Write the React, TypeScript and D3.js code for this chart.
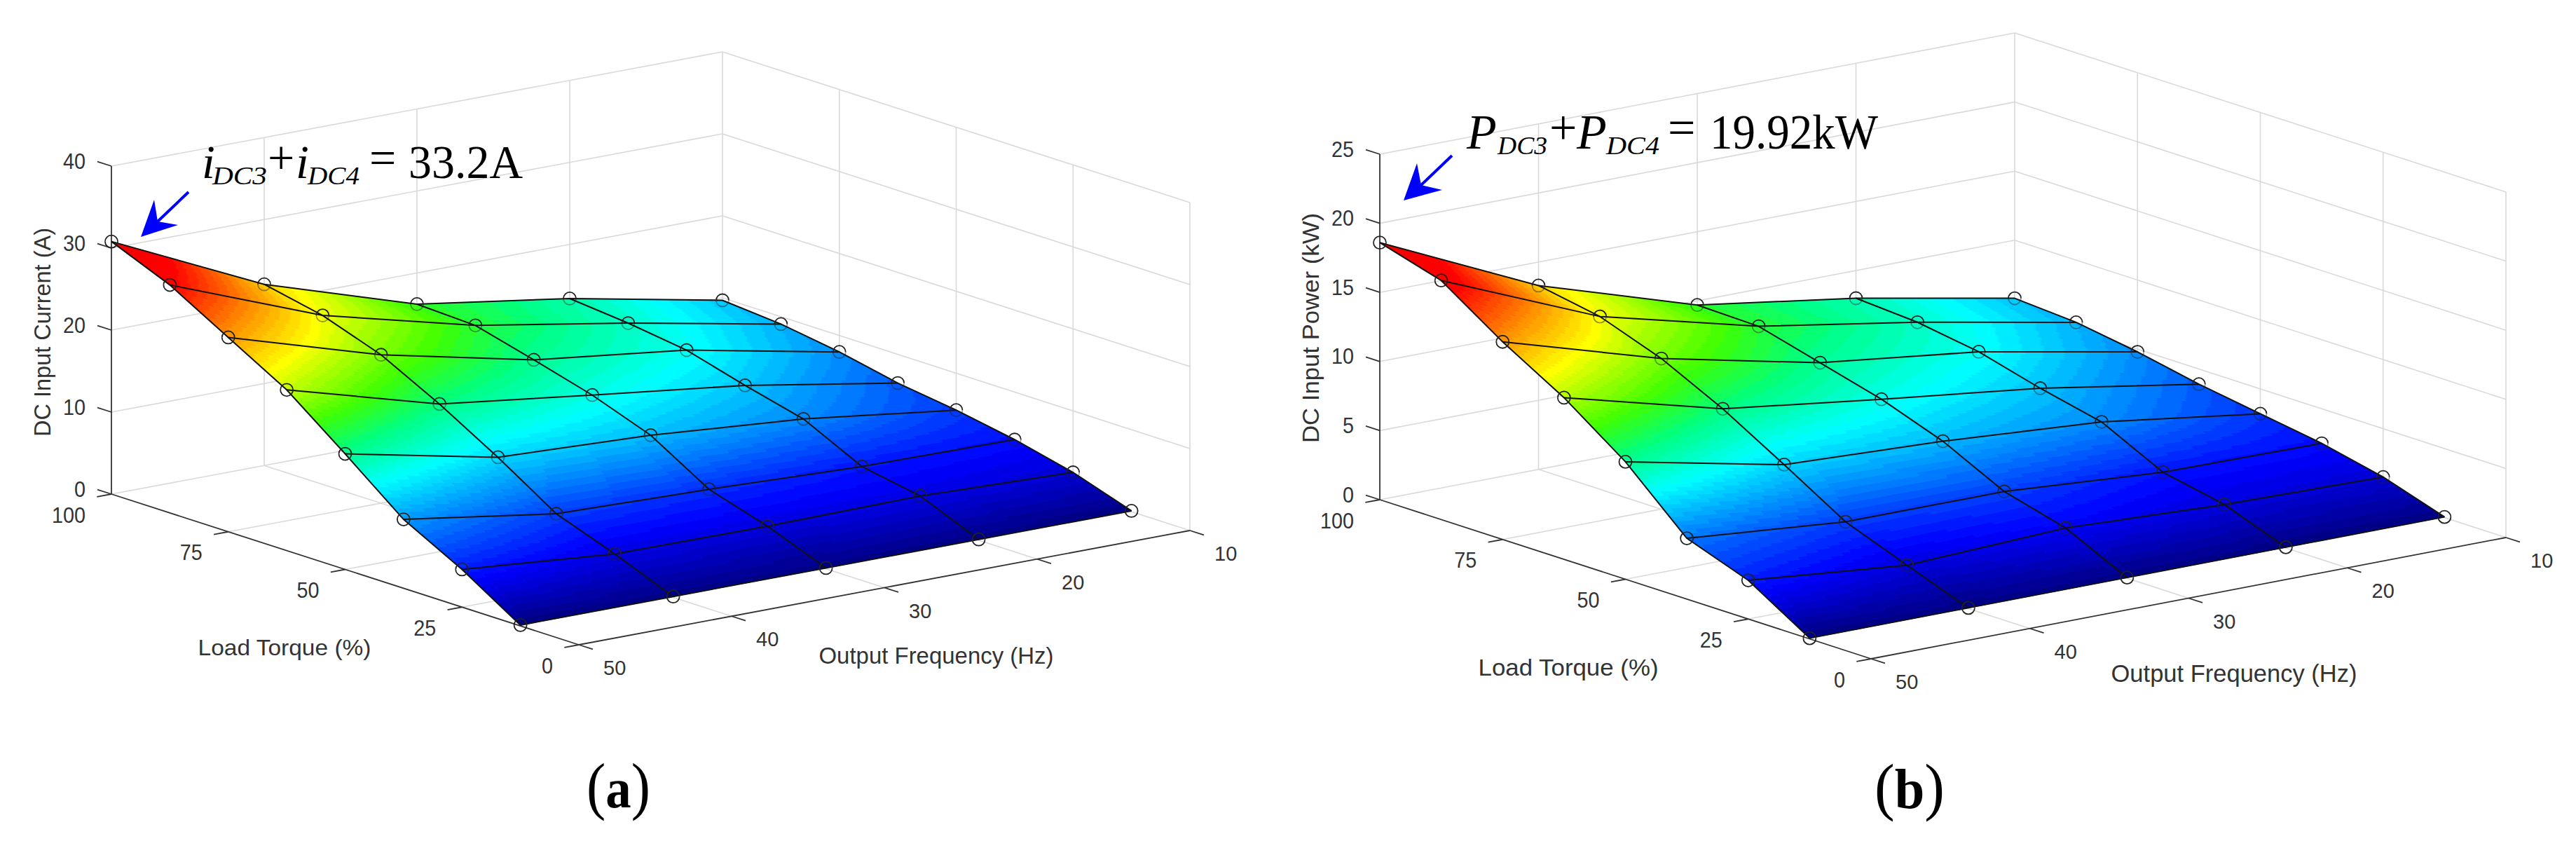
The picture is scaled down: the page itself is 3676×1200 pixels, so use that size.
import React, { useEffect, useRef } from 'react';
import * as d3 from 'd3';

// Grid the measurements were taken on
const torqueLevels = [100, 87.5, 75, 62.5, 50, 37.5, 25, 12.5];
const frequencyLevels = [50, 40, 30, 20, 10];

// Axis ticks
const torqueTicks = [100, 75, 50, 25, 0];
const frequencyTicks = [50, 40, 30, 20, 10];
const currentTicks = [0, 10, 20, 30, 40];
const powerTicks = [0, 5, 10, 15, 20, 25];

// (a) DC input current in A, one list per output frequency, same order as torqueLevels
const currentAt50Hz = [30.8, 27.8, 23.7, 19.6, 14.1, 8.4, 4.6, 0.1];
const currentAt40Hz = [22.1, 20.6, 18.1, 14.4, 10.2, 5.6, 3.0, 0.1];
const currentAt30Hz = [16.2, 15.9, 14.0, 12.0, 9.4, 5.1, 2.9, 0.1];
const currentAt20Hz = [13.4, 12.7, 11.7, 9.7, 7.9, 4.4, 3.1, 0.1];
const currentAt10Hz = [9.7, 9.1, 8.0, 6.5, 5.5, 4.2, 2.5, 0.1];

// (b) DC input power in kW
const powerAt50Hz = [18.6, 17.3, 14.3, 11.7, 8.5, 4.4, 2.8, 0.05];
const powerAt40Hz = [13.3, 12.5, 10.9, 8.7, 6.1, 3.4, 1.7, 0.05];
const powerAt30Hz = [9.7, 9.6, 8.4, 7.2, 5.6, 3.4, 2.2, 0.05];
const powerAt20Hz = [8.0, 7.7, 7.0, 5.8, 4.8, 2.6, 1.7, 0.05];
const powerAt10Hz = [5.8, 5.5, 4.8, 3.9, 3.2, 2.5, 1.5, 0.05];

// Jet-like colormap, read from the surface: the green part is more saturated than plain jet
const jetStops = [0, 0.125, 0.37, 0.47, 0.55, 0.68, 0.9, 1];
const jetColors = ['#00007f', '#0000ff', '#00ffff', '#00ff80', '#40ff00', '#ffff00', '#ff0000', '#f00000'];
const jet = d3.scaleLinear<string>().domain(jetStops).range(jetColors).interpolate(d3.interpolateRgb);
const jetSteps = 64;

const sans = '"Liberation Sans", Arial, sans-serif';
const serif = '"Liberation Serif", "Times New Roman", serif';

const panels = [
  {
    rows: [currentAt50Hz, currentAt40Hz, currentAt30Hz, currentAt20Hz, currentAt10Hz],
    zTicks: currentTicks,
    left: [159, 705], front: [826, 920], right: [1698, 757], zHeight: 468,
    zLabel: 'DC Input Current (A)', zLabelX: 72, zLabelY: 474, zLabelLen: 298, zLabelSize: 33,
    torqueLabelPos: [406, 935], torqueLabelLen: 247, torqueLabelSize: 32,
    freqLabelPos: [1336, 947], freqLabelLen: 335, freqLabelSize: 33,
    arrow: { from: [269, 274], notch: [225, 316], tip: [201, 338], barbA: [220, 285], barbB: [254, 321] },
    symbol: 'i',
    note: { size: 68, base: 254, subBase: 263, subSize: 35, x1: 288, sub1: 303, sub1End: 381, plus: 382, x2: 422, sub2: 439, sub2End: 513, eq: 527, value: '33.2A', valueX: 583, valueEnd: 746 },
    tag: { x: 837, y: 1152, end: 928, letter: 'a' },
  },
  {
    rows: [powerAt50Hz, powerAt40Hz, powerAt30Hz, powerAt20Hz, powerAt10Hz],
    zTicks: powerTicks,
    left: [1969, 713], front: [2670, 940], right: [3576, 767], zHeight: 493,
    zLabel: 'DC Input Power (kW)', zLabelX: 1882, zLabelY: 468, zLabelLen: 328, zLabelSize: 34,
    torqueLabelPos: [2238, 964], torqueLabelLen: 257, torqueLabelSize: 34,
    freqLabelPos: [3188, 973], freqLabelLen: 351, freqLabelSize: 35,
    arrow: { from: [2072, 222], notch: [2028, 264], tip: [2003, 286], barbA: [2022, 233], barbB: [2058, 271] },
    symbol: 'P',
    note: { size: 70, base: 212, subBase: 220, subSize: 35, x1: 2093, sub1: 2137, sub1End: 2208, plus: 2211, x2: 2250, sub2: 2292, sub2End: 2368, eq: 2380, value: '19.92kW', valueX: 2440, valueEnd: 2680 },
    tag: { x: 2675, y: 1153, end: 2775, letter: 'b' },
  },
];

function drawPanel(root: any, panel: any) {
  const [lx, ly] = panel.left;
  const [fx, fy] = panel.front;
  const [rx, ry] = panel.right;
  const zTop = d3.max(panel.zTicks) as number;

  // Orthographic view: each data axis adds a fixed screen offset
  const torqueX = d3.scaleLinear().domain([100, 0]).range([0, fx - lx]);
  const torqueY = d3.scaleLinear().domain([100, 0]).range([0, fy - ly]);
  const freqX = d3.scaleLinear().domain([50, 10]).range([0, rx - fx]);
  const freqY = d3.scaleLinear().domain([50, 10]).range([0, ry - fy]);
  const zY = d3.scaleLinear().domain([0, zTop]).range([0, -panel.zHeight]);
  const project = (t: number, f: number, z: number): [number, number] => [
    lx + torqueX(t) + freqX(f),
    ly + torqueY(t) + freqY(f) + zY(z),
  ];

  const g = root.append('g');
  const line = d3.line();

  // Back walls and floor
  const grid = g.append('g').attr('fill', 'none').attr('stroke', '#d9d9d9').attr('stroke-width', 1.6);
  const seg = (sel: any, a: [number, number], b: [number, number]) =>
    sel.append('path').attr('d', line([a, b]));
  panel.zTicks.forEach((z: number) => {
    seg(grid, project(100, 50, z), project(100, 10, z));
    seg(grid, project(100, 10, z), project(0, 10, z));
  });
  frequencyTicks.slice(1).forEach((f) => {
    seg(grid, project(100, f, 0), project(100, f, zTop));
    if (f !== 10) seg(grid, project(100, f, 0), project(0, f, 0));
  });
  torqueTicks.slice(1).forEach((t) => {
    seg(grid, project(t, 10, 0), project(t, 10, zTop));
    if (t !== 0) seg(grid, project(t, 50, 0), project(t, 10, 0));
  });

  // Axes with ticks
  const ink = '#333333';
  const axes = g.append('g').attr('fill', 'none').attr('stroke', ink).attr('stroke-width', 1.8);
  seg(axes, project(100, 50, 0), project(100, 50, zTop));
  seg(axes, project(100, 50, 0), project(0, 50, 0));
  seg(axes, project(0, 50, 0), project(0, 10, 0));

  const torqueLen = Math.hypot(fx - lx, fy - ly);
  const freqLen = Math.hypot(rx - fx, ry - fy);
  const alongTorque = [((fx - lx) / torqueLen) * 21, ((fy - ly) / torqueLen) * 21];
  const alongFreq = [((rx - fx) / freqLen) * 21, ((ry - fy) / freqLen) * 21];

  const labels = g.append('g').attr('fill', ink).attr('font-family', sans);
  // z and torque numbers are tall and narrow in the original, frequency numbers are not
  const label = (x: number, y: number, text: string, anchor: string, size: number, digitWidth?: number) => {
    const el = labels.append('text').attr('x', x).attr('y', y).attr('text-anchor', anchor)
      .attr('font-size', size).attr('dominant-baseline', 'central').text(text);
    if (digitWidth) el.attr('textLength', digitWidth * text.length).attr('lengthAdjust', 'spacingAndGlyphs');
  };

  panel.zTicks.forEach((z: number) => {
    const [x, y] = project(100, 50, z);
    seg(axes, [x, y], [x - alongTorque[0], y - alongTorque[1]]);
    label(x - 37, y - 7, String(z), 'end', 31, 16);
  });
  torqueTicks.forEach((t) => {
    const [x, y] = project(t, 50, 0);
    seg(axes, [x, y], [x - alongFreq[0], y - alongFreq[1]]);
    label(x - 37, y + 30, String(t), 'end', 31, 16);
  });
  frequencyTicks.forEach((f) => {
    const [x, y] = project(0, f, 0);
    seg(axes, [x, y], [x + alongTorque[0], y + alongTorque[1]]);
    label(x + 35, y + 33, String(f), 'start', 29);
  });

  // Axis titles, stretched to the measured lengths
  labels.append('text')
    .attr('transform', `translate(${panel.zLabelX},${panel.zLabelY}) rotate(-90)`)
    .attr('text-anchor', 'middle').attr('font-size', panel.zLabelSize)
    .attr('textLength', panel.zLabelLen).attr('lengthAdjust', 'spacingAndGlyphs')
    .text(panel.zLabel);
  labels.append('text')
    .attr('x', panel.torqueLabelPos[0]).attr('y', panel.torqueLabelPos[1]).attr('text-anchor', 'middle')
    .attr('font-size', panel.torqueLabelSize)
    .attr('textLength', panel.torqueLabelLen).attr('lengthAdjust', 'spacingAndGlyphs')
    .text('Load Torque (%)');
  labels.append('text')
    .attr('x', panel.freqLabelPos[0]).attr('y', panel.freqLabelPos[1]).attr('text-anchor', 'middle')
    .attr('font-size', panel.freqLabelSize)
    .attr('textLength', panel.freqLabelLen).attr('lengthAdjust', 'spacingAndGlyphs')
    .text('Output Frequency (Hz)');

  // Interpolated surface: split each cell, gather the small quads by colour step
  const zMax = d3.max(panel.rows.flat()) as number;
  const level = d3.scaleQuantize<number>().domain([0, zMax]).range(d3.range(jetSteps));
  const buckets: string[][] = d3.range(jetSteps).map(() => []);
  const stepsT = 18;
  const stepsF = 44;
  const pt = (p: [number, number]) => `${p[0].toFixed(1)},${p[1].toFixed(1)}`;

  for (let c = 0; c < frequencyLevels.length - 1; c++) {
    for (let r = 0; r < torqueLevels.length - 1; r++) {
      const vertex = (i: number, j: number): [number, number, number] => {
        const a = i / stepsT;
        const b = j / stepsF;
        const t = d3.interpolateNumber(torqueLevels[r], torqueLevels[r + 1])(a);
        const f = d3.interpolateNumber(frequencyLevels[c], frequencyLevels[c + 1])(b);
        const z0 = d3.interpolateNumber(panel.rows[c][r], panel.rows[c][r + 1])(a);
        const z1 = d3.interpolateNumber(panel.rows[c + 1][r], panel.rows[c + 1][r + 1])(a);
        return [t, f, d3.interpolateNumber(z0, z1)(b)];
      };
      for (let i = 0; i < stepsT; i++) {
        for (let j = 0; j < stepsF; j++) {
          const corners = [vertex(i, j), vertex(i + 1, j), vertex(i + 1, j + 1), vertex(i, j + 1)];
          const mid = d3.mean(corners, (d) => d[2]) as number;
          buckets[level(mid)].push('M' + corners.map((d) => pt(project(d[0], d[1], d[2]))).join('L') + 'Z');
        }
      }
    }
  }
  const surface = g.append('g').attr('stroke-width', 1).attr('stroke-linejoin', 'round');
  buckets.forEach((quads, k) => {
    if (!quads.length) return;
    const color = jet((k + 0.5) / jetSteps);
    surface.append('path').attr('d', quads.join('')).attr('fill', color).attr('stroke', color);
  });

  // Mesh lines and measured points
  const mesh = g.append('g').attr('fill', 'none').attr('stroke', '#111111').attr('stroke-width', 2);
  torqueLevels.forEach((t, r) => {
    mesh.append('path').attr('d', line(frequencyLevels.map((f, c) => project(t, f, panel.rows[c][r]))));
  });
  frequencyLevels.forEach((f, c) => {
    mesh.append('path').attr('d', line(torqueLevels.map((t, r) => project(t, f, panel.rows[c][r]))));
  });

  // Markers sit just under the surface, so their lower half shows faintly except on the near edges
  const points = g.append('g').attr('fill', 'none').attr('stroke', '#222222').attr('stroke-width', 1.8);
  const upperHalf = d3.arc()({ innerRadius: 9, outerRadius: 9, startAngle: -Math.PI / 2, endAngle: Math.PI / 2 } as any);
  const lowerHalf = d3.arc()({ innerRadius: 9, outerRadius: 9, startAngle: Math.PI / 2, endAngle: (3 * Math.PI) / 2 } as any);
  frequencyLevels.forEach((f, c) => {
    torqueLevels.forEach((t, r) => {
      const [x, y] = project(t, f, panel.rows[c][r]);
      const onNearEdge = c === 0 || r === torqueLevels.length - 1;
      points.append('path').attr('transform', `translate(${x},${y})`).attr('d', upperHalf);
      points.append('path').attr('transform', `translate(${x},${y})`).attr('d', lowerHalf)
        .attr('stroke-opacity', onNearEdge ? 1 : 0.45);
    });
  });

  // Blue arrow
  const { from, notch, tip, barbA, barbB } = panel.arrow;
  g.append('path').attr('d', line([from, notch])).attr('stroke', '#0000ff').attr('stroke-width', 4).attr('fill', 'none');
  g.append('path').attr('d', line([tip, barbA, notch, barbB]) + 'Z').attr('fill', '#0000ff');

  // Annotation
  const n = panel.note;
  const note = g.append('g').attr('font-family', serif).attr('fill', '#000000');
  const word = (x: number, y: number, size: number, text: string, italic: boolean, end?: number) => {
    const el = note.append('text').attr('x', x).attr('y', y).attr('font-size', size)
      .attr('font-style', italic ? 'italic' : 'normal').text(text);
    if (end) el.attr('textLength', end - x).attr('lengthAdjust', 'spacingAndGlyphs');
  };
  word(n.x1, n.base, n.size, panel.symbol, true);
  word(n.sub1, n.subBase, n.subSize, 'DC3', true, n.sub1End);
  word(n.plus, n.base - 6, n.size, '+', false);
  word(n.x2, n.base, n.size, panel.symbol, true);
  word(n.sub2, n.subBase, n.subSize, 'DC4', true, n.sub2End);
  word(n.eq, n.base - 6, n.size, '=', false);
  word(n.valueX, n.base, n.size, n.value, false, n.valueEnd);

  // Sub-figure tag: tall parentheses round a bold letter
  const tag = g.append('text').attr('x', panel.tag.x).attr('y', panel.tag.y)
    .attr('font-family', serif).attr('font-size', 90).attr('fill', '#000000')
    .attr('textLength', panel.tag.end - panel.tag.x).attr('lengthAdjust', 'spacingAndGlyphs');
  tag.append('tspan').text('(');
  tag.append('tspan').attr('font-weight', 'bold').attr('font-size', 80).text(panel.tag.letter);
  tag.append('tspan').text(')');
}

export default function App() {
  const ref = useRef<SVGSVGElement>(null);

  useEffect(() => {
    const svg = d3.select(ref.current);
    svg.selectAll('*').remove();
    panels.forEach((panel) => drawPanel(svg, panel));
  }, []);

  return (
    <svg
      ref={ref}
      width={3676}
      height={1200}
      viewBox="0 0 3676 1200"
      style={{ position: 'absolute', left: 0, top: 0, background: '#ffffff' }}
    />
  );
}
